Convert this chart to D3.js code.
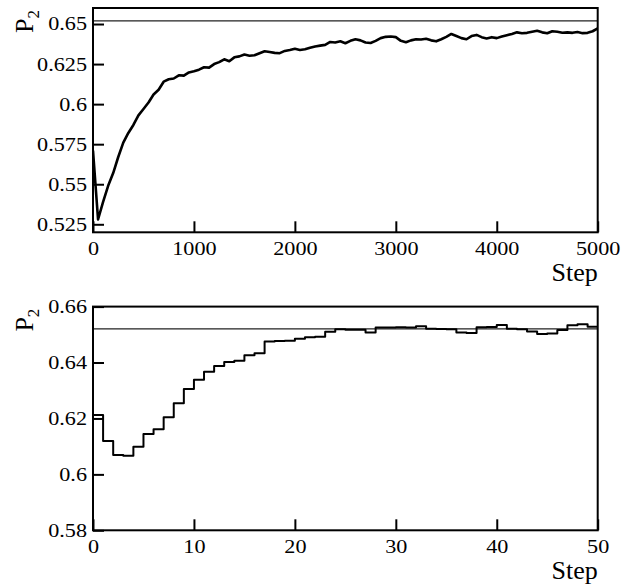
<!DOCTYPE html>
<html>
<head>
<meta charset="utf-8">
<script src="https://cdn.jsdelivr.net/npm/d3@7"></script>
<style>
    body { margin: 0; background: #fff; }
    svg text { font-family: "Liberation Serif", "Times New Roman", serif; fill: #000; }
</style>
</head>
<body>
<div id="chart"></div>
<script>
(function () {
    'use strict';

    // top panel: P2 versus step (0..5000)
    let runSteps = [0, 50, 100, 150, 200, 250, 300, 350, 400, 450, 500, 550, 600, 650, 700, 750, 800, 850, 900, 950,
        1000, 1050, 1100, 1150, 1200, 1250, 1300, 1350, 1400, 1450, 1500, 1550, 1600, 1650, 1700, 1750, 1800, 1850, 1900, 1950,
        2000, 2050, 2100, 2150, 2200, 2250, 2300, 2350, 2400, 2450, 2500, 2550, 2600, 2650, 2700, 2750, 2800, 2850, 2900, 2950,
        3000, 3050, 3100, 3150, 3200, 3250, 3300, 3350, 3400, 3450, 3500, 3550, 3600, 3650, 3700, 3750, 3800, 3850, 3900, 3950,
        4000, 4050, 4100, 4150, 4200, 4250, 4300, 4350, 4400, 4450, 4500, 4550, 4600, 4650, 4700, 4750, 4800, 4850, 4900, 4950, 5000];
    let runP2 = [0.571, 0.528, 0.539, 0.549, 0.557, 0.567, 0.576, 0.582, 0.587, 0.593, 0.597, 0.601, 0.606, 0.609, 0.614, 0.6155, 0.616, 0.618, 0.6178, 0.6198,
        0.6205, 0.6215, 0.623, 0.6228, 0.625, 0.6262, 0.628, 0.6268, 0.6292, 0.6298, 0.631, 0.6302, 0.6305, 0.6318, 0.633, 0.6325, 0.632, 0.6318, 0.6332, 0.6338,
        0.6345, 0.6338, 0.6342, 0.6352, 0.636, 0.6365, 0.637, 0.6388, 0.6385, 0.6392, 0.638, 0.6395, 0.6405, 0.6398, 0.6385, 0.6382, 0.6395, 0.6412, 0.642, 0.6422,
        0.6418, 0.6395, 0.6386, 0.6398, 0.6405, 0.6403, 0.6408, 0.6398, 0.6392, 0.6405, 0.642, 0.6438, 0.6425, 0.6412, 0.6405, 0.6425, 0.6432, 0.6418, 0.641, 0.6418,
        0.6412, 0.6422, 0.643, 0.6438, 0.6448, 0.6442, 0.6445, 0.6452, 0.6458, 0.6448, 0.6442, 0.6455, 0.6452, 0.6446, 0.6448, 0.6445, 0.645, 0.6443, 0.6445, 0.6455, 0.6472];

    // bottom panel: block values per step (0..49)
    let blockSteps = d3.range(0, 50);
    let blockP2 = [0.6212, 0.6119, 0.6069, 0.6067, 0.6099, 0.6144, 0.6161, 0.6204, 0.6254, 0.6305,
        0.6338, 0.6367, 0.6388, 0.6402, 0.6406, 0.6426, 0.6433, 0.6475, 0.6477, 0.6478,
        0.6485, 0.6490, 0.6492, 0.6510, 0.6519, 0.6517, 0.6517, 0.6507, 0.6525, 0.6525,
        0.6526, 0.6525, 0.6530, 0.6521, 0.6520, 0.6519, 0.6507, 0.6506, 0.6526, 0.6527,
        0.6534, 0.6521, 0.6519, 0.6511, 0.6502, 0.6504, 0.6516, 0.6533, 0.6537, 0.6528];

    let referenceP2 = 0.652;

    let topXTicks = [0, 1000, 2000, 3000, 4000, 5000];
    let topYTicks = [0.525, 0.55, 0.575, 0.6, 0.625, 0.65];
    let bottomXTicks = [0, 10, 20, 30, 40, 50];
    let bottomYTicks = [0.58, 0.6, 0.62, 0.64, 0.66];

    let serif = '"Liberation Serif", "Times New Roman", serif';
    let width = 635, height = 587;
    let left = 93, right = 597.7;

    let svg = d3.select('#chart').append('svg')
        .attr('width', width)
        .attr('height', height);

    function panel(opts) {
        let x = d3.scaleLinear().domain(opts.xDomain).range([left, right]);
        let y = d3.scaleLinear().domain(opts.yDomain).range([opts.bottom, opts.top]);
        let g = svg.append('g');

        let clipId = 'clip' + opts.id;
        g.append('clipPath').attr('id', clipId)
            .append('rect')
            .attr('x', left).attr('y', opts.top)
            .attr('width', right - left).attr('height', opts.bottom - opts.top);

        // reference line
        g.append('line')
            .attr('x1', left).attr('x2', right)
            .attr('y1', y(referenceP2)).attr('y2', y(referenceP2))
            .style('stroke', '#222')
            .style('stroke-width', 1.2);

        g.append('path')
            .datum(opts.xs.map(function (d, i) { return [d, opts.ys[i]]; }))
            .attr('clip-path', 'url(#' + clipId + ')')
            .attr('d', d3.line()
                .x(function (d) { return x(d[0]); })
                .y(function (d) { return y(d[1]); })
                .curve(opts.curve))
            .style('fill', 'none')
            .style('stroke', '#000')
            .style('stroke-width', opts.lineWidth)
            .style('stroke-linejoin', 'round');

        let xAxis = d3.axisBottom(x).tickValues(opts.xTicks)
            .tickSize(-11).tickSizeOuter(0).tickPadding(10)
            .tickFormat(function (d) { return d; });
        let yAxis = d3.axisLeft(y).tickValues(opts.yTicks)
            .tickSize(-11).tickSizeOuter(0).tickPadding(5)
            .tickFormat(function (d) { return d; });

        let xg = g.append('g')
            .attr('transform', 'translate(0,' + opts.bottom + ')')
            .call(xAxis);
        let yg = g.append('g')
            .attr('transform', 'translate(' + left + ',0)')
            .call(yAxis);

        [xg, yg].forEach(function (a) {
            a.attr('font-family', serif).attr('font-size', 18.5);
            a.select('.domain').remove();
            a.selectAll('line').style('stroke', '#000').style('stroke-width', 2);
            a.selectAll('text')
                .attr('fill', '#000')
                .attr('transform', 'scale(1.2,1)');
        });

        // frame
        g.append('rect')
            .attr('x', left).attr('y', opts.top)
            .attr('width', right - left).attr('height', opts.bottom - opts.top)
            .style('fill', 'none')
            .style('stroke', '#000')
            .style('stroke-width', 2);

        // x label
        g.append('text')
            .attr('x', right)
            .attr('y', opts.bottom + 49)
            .attr('text-anchor', 'end')
            .style('font-size', '26px')
            .text('Step');

        // y label P2
        let yl = g.append('text')
            .attr('transform', 'translate(33,' + (opts.top + 25) + ') rotate(-90)')
            .style('font-size', '26px');
        yl.append('tspan').text('P');
        yl.append('tspan')
            .attr('dy', 6)
            .style('font-size', '17px')
            .text('2');
    }

    panel({
        id: 'top',
        top: 8, bottom: 232.3,
        xDomain: [0, 5000], yDomain: [0.52, 0.66],
        xs: runSteps, ys: runP2,
        xTicks: topXTicks, yTicks: topYTicks,
        curve: d3.curveLinear,
        lineWidth: 2.6
    });

    panel({
        id: 'bottom',
        top: 306.6, bottom: 530.3,
        xDomain: [0, 50], yDomain: [0.58, 0.66],
        xs: blockSteps.concat([50]), ys: blockP2.concat([blockP2[blockP2.length - 1]]),
        xTicks: bottomXTicks, yTicks: bottomYTicks,
        curve: d3.curveStepAfter,
        lineWidth: 2
    });
})();
</script>
</body>
</html>
